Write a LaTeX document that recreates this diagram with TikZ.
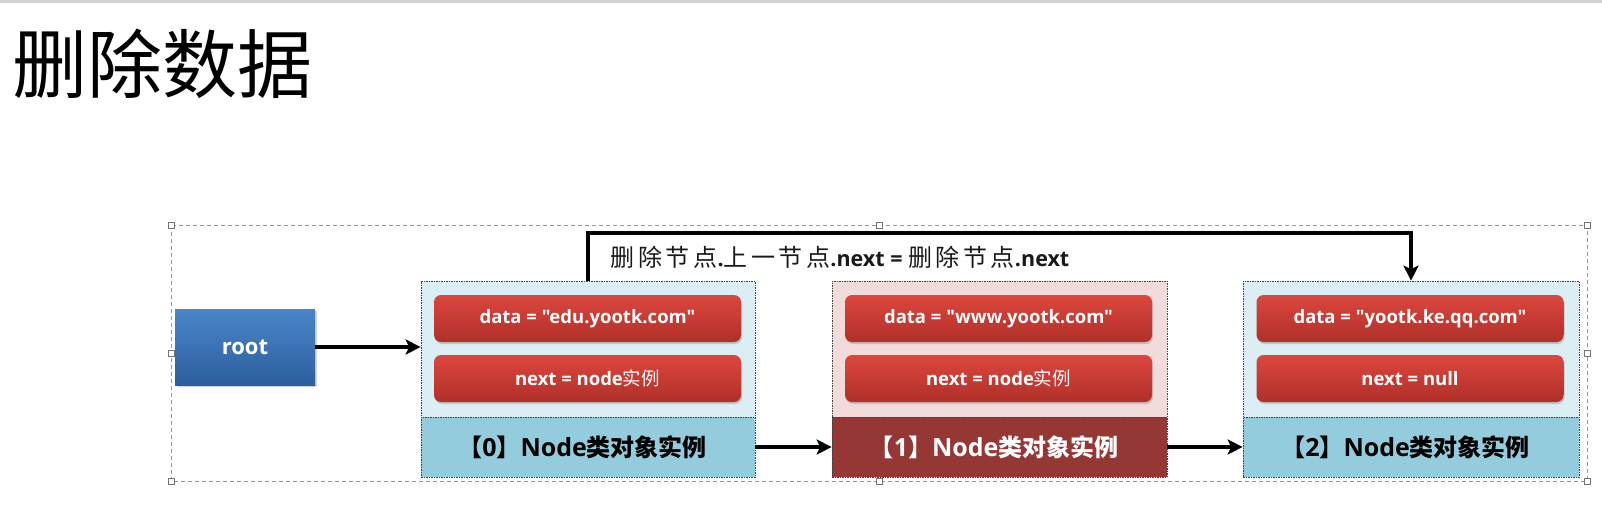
\documentclass[tikz,border=0pt]{standalone}
\usepackage{fontspec}
\setmainfont{Open Sans}[Ligatures=TeXOff]
\newfontfamily\cjk{Noto Sans CJK SC}
\newfontfamily\cjkls{Noto Sans CJK SC}[LetterSpace=15]
\usetikzlibrary{arrows.meta,shadows}
\definecolor{ublue}{HTML}{DAEEF3}
\definecolor{mblue}{HTML}{93CDDD}
\definecolor{upink}{HTML}{F2DCDB}
\definecolor{dred}{HTML}{953735}
\definecolor{rtop}{HTML}{DC463D}
\definecolor{rbot}{HTML}{B0302A}
\definecolor{btop}{HTML}{4A86CA}
\definecolor{bbot}{HTML}{2C5E9C}
\definecolor{selc}{HTML}{6FA0D0}
\newcommand\zh[1]{{\cjk\mdseries #1}}
\newcommand\zl[1]{{\cjkls\mdseries\fontsize{24}{28}\selectfont #1}}
\newcommand\lab[1]{{\cjk\fontsize{24}{28}\selectfont\kern-0.45em【}#1{\cjk\fontsize{24}{28}\selectfont 】}Node{\cjk\fontsize{24}{28}\selectfont 类对象实例}}
\begin{document}
\begin{tikzpicture}[x=1pt,y=-1pt,
  outer/.style={draw=black!75, line width=0.7pt, dash pattern=on 1.5pt off 1pt, inner sep=0pt},
  redbox/.style={rounded corners=7pt, top color=rtop, bottom color=rbot, text=white,
    font=\bfseries\fontsize{18.5}{22}\selectfont, minimum width=307pt, minimum height=47pt, inner sep=0pt,
    drop shadow={opacity=0.35, shadow xshift=1pt, shadow yshift=-2pt}},
  rootbox/.style={top color=btop, bottom color=bbot, text=white, font=\bfseries\fontsize{22}{26}\selectfont,
    minimum width=140pt, minimum height=76pt, inner sep=0pt,
    drop shadow={opacity=0.35, shadow xshift=1.5pt, shadow yshift=-2pt}},
  lowlab/.style={font=\bfseries\fontsize{25}{30}\selectfont},
  conn/.style={line width=4.3pt, -{Stealth[length=15pt,width=15pt,inset=3.5pt]}},
  handle/.style={draw=black!55, fill=white, line width=0.6pt, minimum size=6pt, inner sep=0pt},
  sel/.style={draw=selc, line width=1pt, dash pattern=on 4pt off 3pt}]
\useasboundingbox (0,0) rectangle (1602,504);
\fill[black!18] (0,0) rectangle (1602,3);
% title
\node[anchor=west, inner sep=0pt, font=\cjk\fontsize{75}{80}\selectfont] (title) at (12,64) {删除数据};
% selection frame
\draw[sel] (171,225) rectangle (1587,481);
\foreach \p [count=\i] in {(171,225),(879,225),(1587,225),(171,353),(1587,353),(171,481),(879,481),(1587,481)}
  \node[handle] (h\i) at \p {};
% node 0
\node[outer, fill=ublue, minimum width=334pt, minimum height=136pt] (n0u) at (588,349) {};
\node[outer, fill=mblue, minimum width=334pt, minimum height=60pt, lowlab] (n0l) at (588,447) {\lab{0}};
\node[redbox] (n0d) at (587.5,318.5) {data = "edu.yootk.com"};
\node[redbox] (n0n) at (587.5,378.5) {next = node\zh{实例}};
% node 1
\node[outer, fill=upink, minimum width=335pt, minimum height=136pt] (n1u) at (999.5,349) {};
\node[outer, fill=dred, minimum width=335pt, minimum height=60pt, lowlab, text=white] (n1l) at (999.5,447) {\lab{1}};
\node[redbox] (n1d) at (998.5,318.5) {data = "www.yootk.com"};
\node[redbox] (n1n) at (998.5,378.5) {next = node\zh{实例}};
% node 2
\node[outer, fill=ublue, minimum width=336pt, minimum height=136pt] (n2u) at (1411,349) {};
\node[outer, fill=mblue, minimum width=336pt, minimum height=60pt, lowlab] (n2l) at (1411,447) {\lab{2}};
\node[redbox] (n2d) at (1410,318.5) {data = "yootk.ke.qq.com"};
\node[redbox] (n2n) at (1410,378.5) {next = null};
% root
\node[rootbox] (root) at (245,347) {root};
% connectors
\draw[conn] (root.east) -- (root.east -| n0u.west);
\draw[conn] (n0l.east) -- (n1l.west);
\draw[conn] (n1l.east) -- (n2l.west);
\draw[conn] (n0u.north) -- ++(0,-48) -| (n2u.north);
\node[font=\bfseries\fontsize{21.5}{26}\selectfont, inner sep=0pt, text=black!90] (lbl) at (840,257)
  {\zl{删除节点}.\zl{上一节点}.next = \zl{删除节点}.next};
\end{tikzpicture}
\end{document}
